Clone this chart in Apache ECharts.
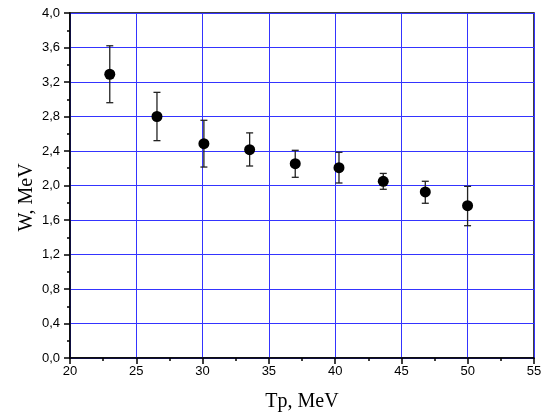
<!DOCTYPE html>
<html><head><meta charset="utf-8">
<script src="https://cdn.jsdelivr.net/npm/echarts@6/dist/echarts.min.js"></script>
<style>html,body{margin:0;padding:0;background:#fff}#c{width:545px;height:417px}</style>
</head><body><div id="c"></div>
<script>
const tp = [23.0, 26.56, 30.1, 33.55, 36.99, 40.29, 43.63, 46.8, 49.99];
const w = [3.29, 2.80, 2.485, 2.415, 2.253, 2.207, 2.049, 1.925, 1.766];
const wHigh = [3.62, 3.08, 2.756, 2.61, 2.408, 2.385, 2.14, 2.049, 1.99];
const wLow = [2.96, 2.52, 2.214, 2.226, 2.095, 2.029, 1.956, 1.794, 1.534];

const chart = echarts.init(document.getElementById('c'));
const gridLine = {show: true, lineStyle: {color: '#3434ff', width: 1, type: 'solid'}};
const errData = tp.map((x, i) => [x, wLow[i], wHigh[i]]);
chart.setOption({
  animation: false,
  backgroundColor: '#fff',
  grid: {left: 70, right: 11, top: 13, bottom: 59, show: true, borderColor: '#000', borderWidth: 1.5, backgroundColor: 'transparent'},
  xAxis: {
    type: 'value', min: 20, max: 55, interval: 5,
    name: 'Tp, MeV', nameLocation: 'middle', nameGap: 34,
    nameTextStyle: {fontFamily: 'Liberation Serif', fontSize: 20, color: '#000'},
    axisLine: {show: true, onZero: false, lineStyle: {color: '#000', width: 1.5}},
    axisTick: {show: true, inside: false, length: 6, lineStyle: {color: '#000', width: 1.5}},
    minorTick: {show: true, splitNumber: 2, length: 3, lineStyle: {color: '#000', width: 1.5}},
    axisLabel: {fontFamily: 'Liberation Sans', fontSize: 13, color: '#000', margin: 7},
    splitLine: gridLine
  },
  yAxis: {
    type: 'value', min: 0, max: 4, interval: 0.4,
    name: 'W, MeV', nameLocation: 'middle', nameGap: 33, nameMoveOverlap: false,
    nameTextStyle: {fontFamily: 'Liberation Serif', fontSize: 20, color: '#000', padding: [0, 0, 0, -24]},
    axisLine: {show: true, onZero: false, lineStyle: {color: '#000', width: 1.5}},
    axisTick: {show: true, inside: false, length: 6, lineStyle: {color: '#000', width: 1.5}},
    minorTick: {show: true, splitNumber: 2, length: 3, lineStyle: {color: '#000', width: 1.5}},
    axisLabel: {fontFamily: 'Liberation Sans', fontSize: 13, color: '#000', margin: 10,
      formatter: v => v.toFixed(1).replace('.', ',')},
    splitLine: gridLine
  },
  series: [
    {
      type: 'custom',
      data: errData,
      z: 3,
      renderItem: function (params, api) {
        const x = api.value(0);
        const lo = api.coord([x, api.value(1)]);
        const hi = api.coord([x, api.value(2)]);
        const hw = 3.5;
        const st = {stroke: '#222', lineWidth: 1.3};
        return {type: 'group', children: [
          {type: 'line', shape: {x1: lo[0], y1: lo[1], x2: hi[0], y2: hi[1]}, style: st},
          {type: 'line', shape: {x1: lo[0] - hw, y1: lo[1], x2: lo[0] + hw, y2: lo[1]}, style: st},
          {type: 'line', shape: {x1: hi[0] - hw, y1: hi[1], x2: hi[0] + hw, y2: hi[1]}, style: st}
        ]};
      }
    },
    {
      type: 'scatter',
      data: tp.map((x, i) => [x, w[i]]),
      symbol: 'circle', symbolSize: 11,
      itemStyle: {color: '#000', opacity: 1},
      z: 5
    }
  ]
});
</script></body></html>
